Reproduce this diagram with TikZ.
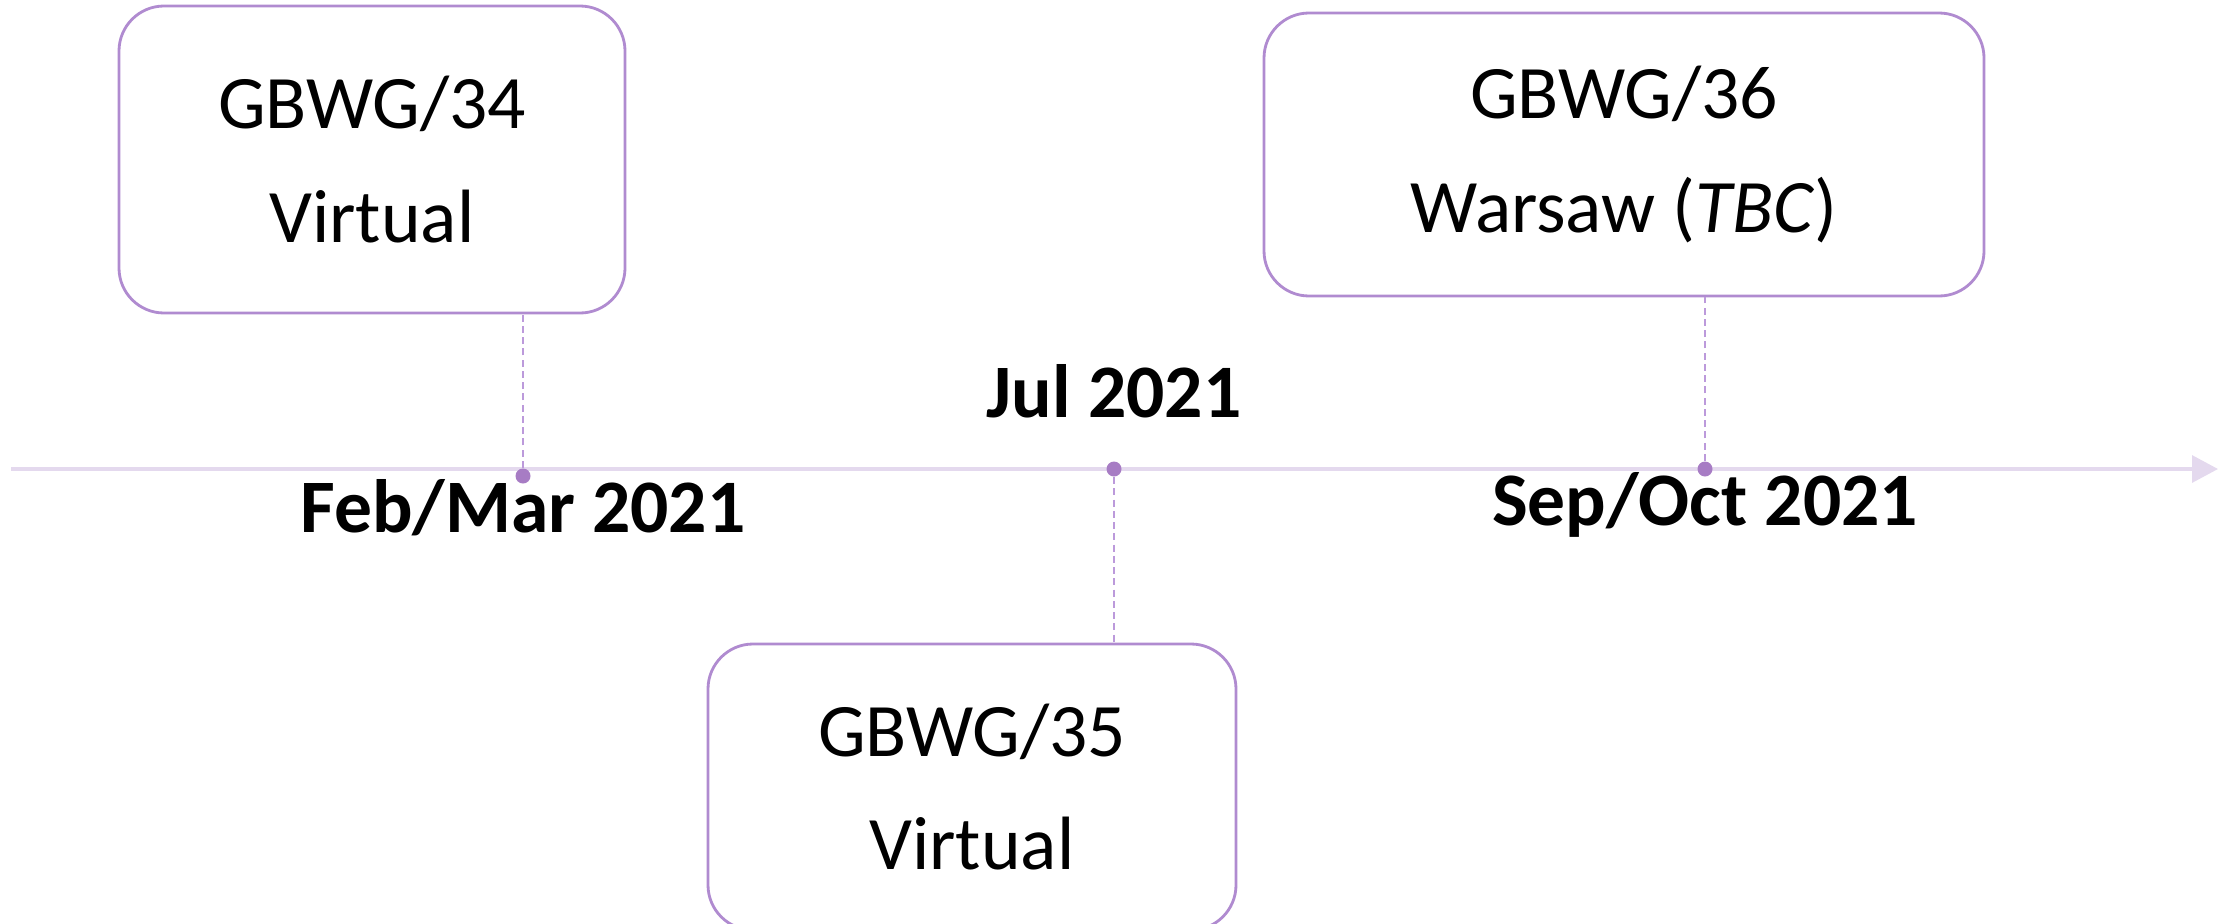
\documentclass[tikz,border=0pt]{standalone}
\usepackage{fontspec}
\setmainfont{Carlito}
\usepackage{tikz}
\usetikzlibrary{arrows.meta,positioning}

\definecolor{boxline}{HTML}{B08BD0}
\definecolor{dotfill}{HTML}{A77CC4}
\definecolor{axisline}{HTML}{E4D9EE}
\definecolor{dashline}{HTML}{BC9ADB}

\begin{document}
\begin{tikzpicture}[>={Triangle[length=2.6mm,width=2.7mm]},
    meeting/.style={draw=boxline, line width=0.8pt, rounded corners=0.45cm,
      align=center, inner sep=0pt, font=\fontsize{21.5}{32.2}\selectfont},
    tick/.style={circle, fill=dotfill, inner sep=0pt, minimum size=1.5mm},
    date/.style={inner sep=0pt, font=\fontsize{21.5}{25}\selectfont\bfseries},
    link/.style={draw=dashline, line width=0.45pt, dash pattern=on 2pt off 1.2pt}]
  \useasboundingbox (0,-4.54) rectangle (22.2,4.69);
  \coordinate (start) at (0.11,0);
  \coordinate (end) at (22.18,0);
  \draw[->, axisline, line width=0.9pt] (start) -- (end);
  \node[tick] (t34) at (5.23,-0.07) {};
  \node[tick] (t35) at (11.14,0) {};
  \node[tick] (t36) at (17.05,0) {};
  \node[meeting, minimum width=5.06cm, minimum height=3.07cm] (m34) at (3.72,3.095) {GBWG/34\\Virtual};
  \node[meeting, minimum width=5.28cm, minimum height=2.86cm] (m35) at (9.72,-3.18) {GBWG/35\\Virtual};
  \node[meeting, minimum width=7.2cm, minimum height=2.83cm] (m36) at (16.24,3.145) {GBWG/36\\Warsaw (\textit{TBC})};
  \node[date, below=0.485cm of t34, anchor=base] (l34) {Feb/Mar 2021};
  \node[date, above=0.435cm of t35, anchor=base] (l35) {Jul 2021};
  \node[date, below=0.485cm of t36, anchor=base] (l36) {Sep/Oct 2021};
  \draw[link] (t34.north) -- (t34 |- m34.south);
  \draw[link] (t35.south) -- (t35 |- m35.north);
  \draw[link] (t36.north) -- (t36 |- m36.south);
\end{tikzpicture}
\end{document}
